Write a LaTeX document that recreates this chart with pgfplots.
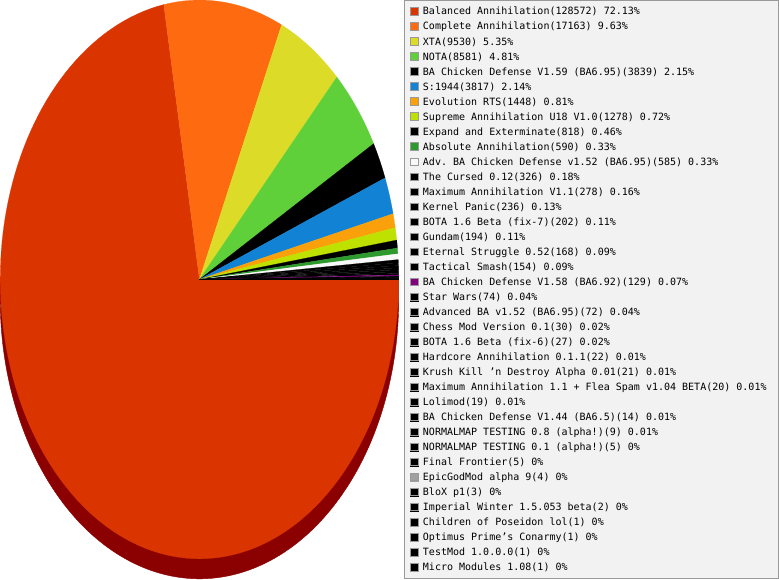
\documentclass[border=0pt]{standalone}
\usepackage{pgfplots}
\pgfplotsset{compat=1.18}
\usepackage{fontspec}
\setmonofont{DejaVu Sans Mono}[WordSpace={1,0,0}]
\definecolor{cBal}{RGB}{218,53,0}
\definecolor{cComp}{RGB}{253,106,16}
\definecolor{cXTA}{RGB}{220,220,40}
\definecolor{cNOTA}{RGB}{95,207,58}
\definecolor{cBlue}{RGB}{18,131,212}
\definecolor{cEvo}{RGB}{250,160,10}
\definecolor{cSup}{RGB}{190,225,0}
\definecolor{cAbs}{RGB}{46,154,46}
\definecolor{cAdv}{RGB}{248,248,248}
\definecolor{cPurp}{RGB}{128,0,128}
\definecolor{cGray}{RGB}{160,160,160}
\definecolor{cDepth}{RGB}{139,0,0}
\def\total{178239}
\def\rx{199}
\def\ry{279}
\def\depth{20}
\gdef\cum{0}
% one pie slice: count, colour, legend text
\newcommand\slice[3]{%
  \edef\temp{\noexpand\addplot[fill=#2, draw=#2, line width=0.2pt,
    domain={\fpeval{round(-360*(\cum+#1)/\total,5)}:\fpeval{round(-360*\cum/\total,5)}},
    samples=\fpeval{max(2,ceil(360*#1/\total/2)+1)}]
    ({\rx*cos(x)},{\ry*sin(x)}) -- (axis cs:0,0) -- cycle;}%
  \temp
  \addlegendentry{#3}%
  \xdef\cum{\fpeval{\cum+#1}}%
}
\begin{document}
\begin{tikzpicture}
\begin{axis}[
  width=779pt, height=580pt, scale only axis,
  xmin=-201, xmax=578, ymin=-300, ymax=280,
  hide axis, clip=false,
  legend image code/.code={%
    \fill[#1] (0pt,-3.75pt) rectangle (7.5pt,3.75pt);
    \draw[black!40, line width=0.8pt, fill=none] (0pt,-3.75pt) rectangle (7.5pt,3.75pt);},
  legend style={
    at={(axis description cs:0.5199,0.9983)}, anchor=north west,
    fill=gray!10, draw=black!40, line width=0.8pt,
    inner xsep=6pt, inner ysep=3.5pt,
    row sep=0pt, column sep=4.5pt,
    font=\ttfamily\fontsize{10}{10}\selectfont,
    cells={anchor=west},
    nodes={inner sep=0pt, text height=11pt, text depth=4pt},
  },
]
\addplot[forget plot, fill=cDepth, draw=cDepth, domain=-180:0, samples=120]
  ({\rx*cos(x)},{\ry*sin(x)-\depth}) -- (axis cs:\rx,0) -- (axis cs:-\rx,0) -- cycle;
\slice{128572}{cBal}{Balanced Annihilation(128572) 72.13\%}
\slice{17163}{cComp}{Complete Annihilation(17163) 9.63\%}
\slice{9530}{cXTA}{XTA(9530) 5.35\%}
\slice{8581}{cNOTA}{NOTA(8581) 4.81\%}
\slice{3839}{black}{BA Chicken Defense V1.59 (BA6.95)(3839) 2.15\%}
\slice{3817}{cBlue}{S:1944(3817) 2.14\%}
\slice{1448}{cEvo}{Evolution RTS(1448) 0.81\%}
\slice{1278}{cSup}{Supreme Annihilation U18 V1.0(1278) 0.72\%}
\slice{818}{black}{Expand and Exterminate(818) 0.46\%}
\slice{590}{cAbs}{Absolute Annihilation(590) 0.33\%}
\slice{585}{cAdv}{Adv. BA Chicken Defense v1.52 (BA6.95)(585) 0.33\%}
\slice{326}{black}{The Cursed 0.12(326) 0.18\%}
\slice{278}{black}{Maximum Annihilation V1.1(278) 0.16\%}
\slice{236}{black}{Kernel Panic(236) 0.13\%}
\slice{202}{black}{BOTA 1.6 Beta (fix-7)(202) 0.11\%}
\slice{194}{black}{Gundam(194) 0.11\%}
\slice{168}{black}{Eternal Struggle 0.52(168) 0.09\%}
\slice{154}{black}{Tactical Smash(154) 0.09\%}
\slice{129}{cPurp}{BA Chicken Defense V1.58 (BA6.92)(129) 0.07\%}
\slice{74}{black}{Star Wars(74) 0.04\%}
\slice{72}{black}{Advanced BA v1.52 (BA6.95)(72) 0.04\%}
\slice{30}{black}{Chess Mod Version 0.1(30) 0.02\%}
\slice{27}{black}{BOTA 1.6 Beta (fix-6)(27) 0.02\%}
\slice{22}{black}{Hardcore Annihilation 0.1.1(22) 0.01\%}
\slice{21}{black}{Krush Kill ’n Destroy Alpha 0.01(21) 0.01\%}
\slice{20}{black}{Maximum Annihilation 1.1 + Flea Spam v1.04 BETA(20) 0.01\%\hspace*{6pt}}
\slice{19}{black}{Lolimod(19) 0.01\%}
\slice{14}{black}{BA Chicken Defense V1.44 (BA6.5)(14) 0.01\%}
\slice{9}{black}{NORMALMAP TESTING 0.8 (alpha!)(9) 0.01\%}
\slice{5}{black}{NORMALMAP TESTING 0.1 (alpha!)(5) 0\%}
\slice{5}{black}{Final Frontier(5) 0\%}
\slice{4}{cGray}{EpicGodMod alpha 9(4) 0\%}
\slice{3}{black}{BloX p1(3) 0\%}
\slice{2}{black}{Imperial Winter 1.5.053 beta(2) 0\%}
\slice{1}{black}{Children of Poseidon lol(1) 0\%}
\slice{1}{black}{Optimus Prime’s Conarmy(1) 0\%}
\slice{1}{black}{TestMod 1.0.0.0(1) 0\%}
\slice{1}{black}{Micro Modules 1.08(1) 0\%}
\end{axis}
\end{tikzpicture}
\end{document}
